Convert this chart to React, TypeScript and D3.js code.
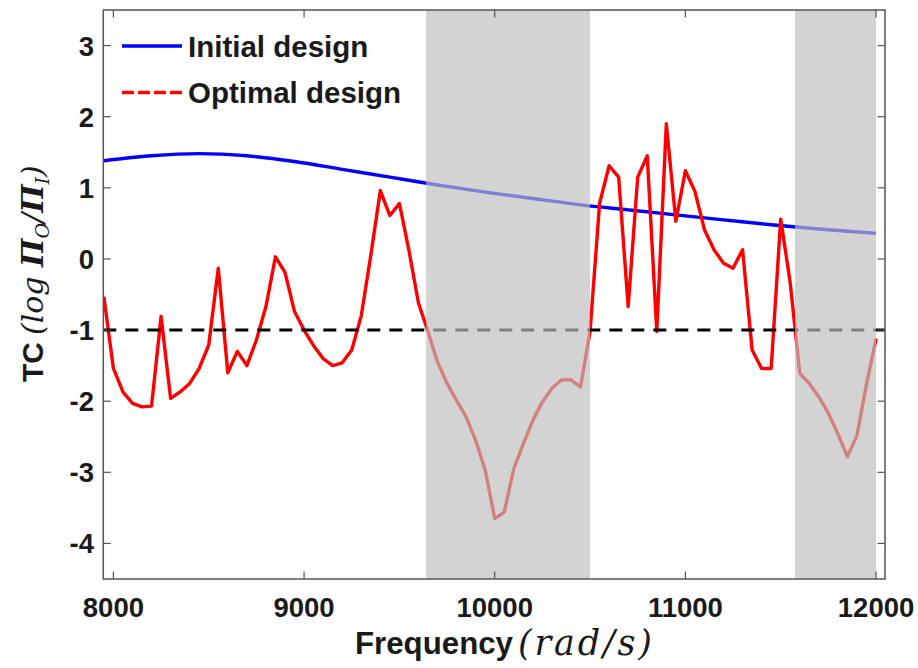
import React from "react";
import * as d3 from "d3";

// Frequency samples (rad/s)
const frequencies = [
  7950, 8000, 8050, 8100, 8150, 8200, 8250, 8300, 8350, 8400, 8450, 8500, 8550, 8600, 8650, 8700,
  8750, 8800, 8850, 8900, 8950, 9000, 9050, 9100, 9150, 9200, 9250, 9300, 9350, 9400, 9450, 9500,
  9550, 9600, 9650, 9700, 9750, 9800, 9850, 9900, 9950, 10000, 10050, 10100, 10150, 10200, 10250,
  10300, 10350, 10400, 10450, 10500, 10550, 10600, 10650, 10700, 10750, 10800, 10850, 10900, 10950,
  11000, 11050, 11100, 11150, 11200, 11250, 11300, 11350, 11400, 11450, 11500, 11550, 11600, 11650,
  11700, 11750, 11800, 11850, 11900, 11950, 12000,
];

// Transmission coefficient of the optimised design
const optimalTC = [
  -0.53, -1.54, -1.87, -2.03, -2.08, -2.07, -0.81, -1.96, -1.87, -1.75, -1.54, -1.21, -0.13, -1.6, -1.3, -1.5,
  -1.14, -0.67, 0.03, -0.19, -0.74, -1.0, -1.22, -1.4, -1.5, -1.46, -1.28, -0.8, 0.05, 0.96, 0.61, 0.78,
  0.12, -0.62, -1.02, -1.45, -1.75, -1.99, -2.22, -2.55, -2.97, -3.65, -3.56, -2.95, -2.6, -2.27, -2.01,
  -1.82, -1.7, -1.7, -1.8, -1.02, 0.78, 1.31, 1.15, -0.67, 1.15, 1.45, -1.02, 1.9, 0.53,
  1.24, 0.95, 0.41, 0.13, -0.06, -0.13, 0.13, -1.28, -1.54, -1.54, 0.56, -0.34, -1.61, -1.75,
  -1.94, -2.17, -2.46, -2.78, -2.48, -1.76, -1.12,
];

// Transmission coefficient of the initial design (smooth response)
const initialFreq = [7950, 8200, 8450, 8700, 8950, 9200, 9450, 9700, 9950, 10200, 10450, 10700, 10950, 11200, 11450, 11700, 11950, 12000];
const initialTC = [1.38, 1.45, 1.48, 1.45, 1.37, 1.26, 1.15, 1.04, 0.94, 0.85, 0.76, 0.69, 0.62, 0.55, 0.48, 0.42, 0.37, 0.36];

// Band-gap regions (rad/s)
const bandStarts = [9640, 11575];
const bandEnds = [10500, 12000];

const thresholdTC = -1;

const xTicks = [8000, 9000, 10000, 11000, 12000];
const yTicks = [3, 2, 1, 0, -1, -2, -3, -4];

const legendLabels = ["Initial design", "Optimal design"];

const W = 918;
const H = 668;
const left = 103.3;
const right = 885;
const top = 10;
const bottom = 579;

export default function App() {
  const x = d3.scaleLinear().domain([7947, 12047]).range([left, right]);
  const y = d3.scaleLinear().domain([-4.5, 3.5]).range([bottom, top]);

  const line = d3
    .line<[number, number]>()
    .x((d) => x(d[0]))
    .y((d) => y(d[1]));
  const smooth = d3
    .line<[number, number]>()
    .x((d) => x(d[0]))
    .y((d) => y(d[1]))
    .curve(d3.curveMonotoneX);

  const redPts = frequencies.map((f, i) => [f, optimalTC[i]] as [number, number]);
  const bluePts = initialFreq.map((f, i) => [f, initialTC[i]] as [number, number]);

  const axisColor = "#555";
  const textColor = "#1a1a1a";
  const tickFont = "'Liberation Sans', Arial, sans-serif";
  const mathFont = "'DejaVu Serif', 'Liberation Serif', serif";

  return (
    <svg
      width={W}
      height={H}
      style={{ position: "absolute", left: 0, top: 0, background: "#fff" }}
    >
      <defs>
        <clipPath id="plot-clip">
          <rect x={left} y={top} width={right - left} height={bottom - top} />
        </clipPath>
      </defs>

      <g clipPath="url(#plot-clip)">
        <path d={smooth(bluePts) || ""} fill="none" stroke="#0000ff" strokeWidth={3.4} />
        <path d={line(redPts) || ""} fill="none" stroke="#ff0000" strokeWidth={3.4} strokeLinejoin="round" />
        <line
          x1={left}
          x2={right}
          y1={y(thresholdTC)}
          y2={y(thresholdTC)}
          stroke="#000"
          strokeWidth={3}
          strokeDasharray="13 9"
        />
        {bandStarts.map((s, i) => (
          <rect
            key={i}
            x={x(s)}
            y={top}
            width={x(bandEnds[i]) - x(s)}
            height={bottom - top}
            fill="rgb(190,190,190)"
            fillOpacity={0.675}
          />
        ))}
      </g>

      {/* Frame */}
      <rect x={left} y={top} width={right - left} height={bottom - top} fill="none" stroke={axisColor} strokeWidth={1.5} />

      {/* X ticks */}
      {xTicks.map((t) => (
        <g key={t}>
          <line x1={x(t)} x2={x(t)} y1={bottom} y2={bottom - 7.5} stroke={axisColor} strokeWidth={1.2} />
          <line x1={x(t)} x2={x(t)} y1={top} y2={top + 7.5} stroke={axisColor} strokeWidth={1.2} />
          <text
            x={x(t)}
            y={617}
            textAnchor="middle"
            fontFamily={tickFont}
            fontWeight="bold"
            fontSize={27.5}
            fill={textColor}
          >
            {t}
          </text>
        </g>
      ))}

      {/* Y ticks */}
      {yTicks.map((t) => (
        <g key={t}>
          <line x1={left} x2={left + 7.5} y1={y(t)} y2={y(t)} stroke={axisColor} strokeWidth={1.2} />
          <line x1={right} x2={right - 7.5} y1={y(t)} y2={y(t)} stroke={axisColor} strokeWidth={1.2} />
          <text
            x={94}
            y={y(t) + 10}
            textAnchor="end"
            fontFamily={tickFont}
            fontWeight="bold"
            fontSize={27.5}
            fill={textColor}
          >
            {t}
          </text>
        </g>
      ))}

      {/* X label */}
      <text x={355} y={654} fontFamily={tickFont} fontWeight="bold" fontSize={31} fill={textColor} textLength={158} lengthAdjust="spacingAndGlyphs">
        Frequency
      </text>
      <text x={518} y={655} fontFamily={mathFont} fontStyle="italic" fontSize={35} fill={textColor} textLength={134} lengthAdjust="spacing">
        (rad/s)
      </text>

      {/* Y label */}
      <g transform="translate(43,382) rotate(-90)">
        <text x={0} y={0} fontSize={30} fill={textColor}>
          <tspan fontFamily={tickFont} fontWeight="bold">TC</tspan>
          <tspan fontFamily={mathFont} fontStyle="italic" dx={7}>(log </tspan>
          <tspan fontFamily={mathFont} fontStyle="italic" fontWeight="bold">Π</tspan>
          <tspan fontFamily={mathFont} fontStyle="italic" fontSize={19} dy={6}>O</tspan>
          <tspan fontFamily={mathFont} fontStyle="italic" dy={-6}>/</tspan>
          <tspan fontFamily={mathFont} fontStyle="italic" fontWeight="bold">Π</tspan>
          <tspan fontFamily={mathFont} fontStyle="italic" fontSize={19} dy={6}>I</tspan>
          <tspan fontFamily={mathFont} fontStyle="italic" dy={-6}>)</tspan>
        </text>
      </g>

      {/* Legend */}
      <line x1={122} x2={182} y1={46} y2={46} stroke="#0000ff" strokeWidth={3.4} />
      <line x1={122} x2={182} y1={92.5} y2={92.5} stroke="#ff0000" strokeWidth={3.4} strokeDasharray="12 4" />
      <text x={188} y={57} fontFamily={tickFont} fontWeight="bold" fontSize={29.5} fill={textColor}>
        {legendLabels[0]}
      </text>
      <text x={188} y={103} fontFamily={tickFont} fontWeight="bold" fontSize={29.5} fill={textColor}>
        {legendLabels[1]}
      </text>
    </svg>
  );
}
